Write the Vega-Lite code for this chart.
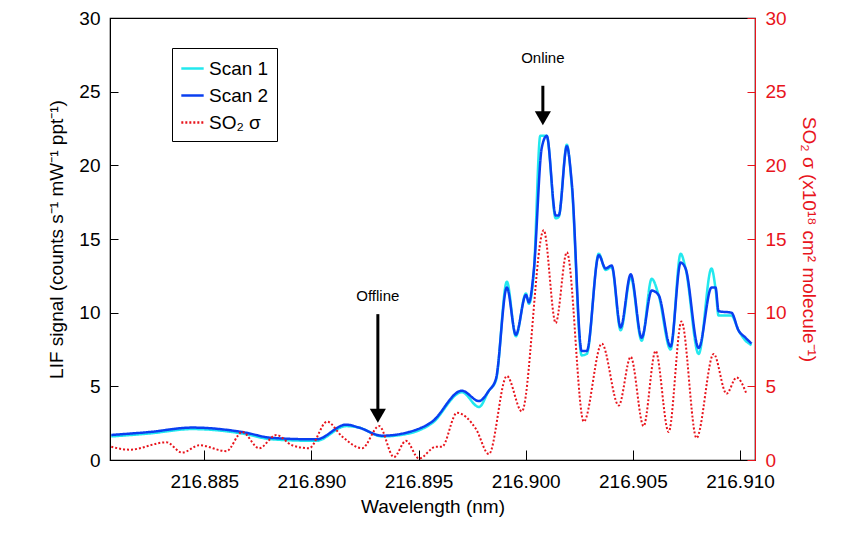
{
"$schema":"https://vega.github.io/schema/vega-lite/v6.json",
"width":645,"height":442,"autosize":"none",
"padding":{"left":110,"top":18,"right":106,"bottom":84},
"background":"white",
"config":{"font":"Liberation Sans","view":{"stroke":"black","strokeWidth":1.2},"axis":{"grid":false,"labelFontSize":19,"titleFontSize":19,"titleFontWeight":"normal","domainColor":"black","tickColor":"black","labelColor":"black","titleColor":"black"}},
"datasets":{
"blue":[
{"w":216.88066,"v":1.7},{"w":216.88244,"v":1.9},{"w":216.88444,"v":2.2},{"w":216.88677,"v":1.9},{"w":216.88817,"v":1.5},{"w":216.89022,"v":1.4},{"w":216.89162,"v":2.4},{"w":216.89222,"v":2.2},{"w":216.8933,"v":1.65},{"w":216.89455,"v":1.9},{"w":216.89563,"v":2.6},{"w":216.89702,"v":4.7},{"w":216.89782,"v":4.0},{"w":216.89828,"v":4.7},{"w":216.89861,"v":5.5},{"w":216.89912,"v":11.7},{"w":216.89954,"v":8.5},{"w":216.90001,"v":11.2},{"w":216.90015,"v":10.7},{"w":216.90038,"v":12.9},{"w":216.90075,"v":21.2},{"w":216.90098,"v":22.0},{"w":216.9014,"v":16.6},{"w":216.90154,"v":16.6},{"w":216.90192,"v":21.3},{"w":216.90215,"v":18.8},{"w":216.90261,"v":7.4},{"w":216.90285,"v":7.4},{"w":216.90341,"v":13.9},{"w":216.90373,"v":13.0},{"w":216.90401,"v":13.2},{"w":216.90443,"v":9.0},{"w":216.9049,"v":12.6},{"w":216.90541,"v":8.3},{"w":216.90588,"v":11.5},{"w":216.9062,"v":11.2},{"w":216.90676,"v":7.7},{"w":216.90723,"v":13.4},{"w":216.90746,"v":13.0},{"w":216.90807,"v":7.6},{"w":216.90867,"v":11.7},{"w":216.90886,"v":11.7},{"w":216.909,"v":10.1},{"w":216.9096,"v":10.0},{"w":216.90993,"v":8.8},{"w":216.91026,"v":8.3},{"w":216.91054,"v":7.9}],
"cyan":[
{"w":216.88066,"v":1.6},{"w":216.88244,"v":1.8},{"w":216.88444,"v":2.1},{"w":216.88677,"v":1.8},{"w":216.88817,"v":1.4},{"w":216.89022,"v":1.3},{"w":216.89162,"v":2.3},{"w":216.89222,"v":2.2},{"w":216.8933,"v":1.6},{"w":216.89455,"v":1.8},{"w":216.89563,"v":2.5},{"w":216.89702,"v":4.6},{"w":216.89782,"v":3.6},{"w":216.89828,"v":4.7},{"w":216.89861,"v":5.4},{"w":216.89912,"v":12.1},{"w":216.89954,"v":8.4},{"w":216.90001,"v":11.3},{"w":216.90015,"v":10.6},{"w":216.90038,"v":12.8},{"w":216.90068,"v":22.0},{"w":216.90098,"v":22.0},{"w":216.9014,"v":16.4},{"w":216.90154,"v":16.5},{"w":216.90192,"v":21.4},{"w":216.90215,"v":18.6},{"w":216.90261,"v":7.1},{"w":216.90285,"v":7.2},{"w":216.90341,"v":14.0},{"w":216.90373,"v":12.9},{"w":216.90401,"v":13.1},{"w":216.90443,"v":8.8},{"w":216.9049,"v":12.4},{"w":216.90541,"v":8.1},{"w":216.90588,"v":12.3},{"w":216.9062,"v":11.2},{"w":216.90676,"v":7.5},{"w":216.90723,"v":14.0},{"w":216.90746,"v":13.0},{"w":216.90807,"v":7.2},{"w":216.90867,"v":13.0},{"w":216.90886,"v":11.6},{"w":216.909,"v":9.8},{"w":216.9096,"v":9.8},{"w":216.90993,"v":8.8},{"w":216.91026,"v":8.1},{"w":216.91054,"v":7.8}],
"red":[
{"w":216.88066,"v":0.9},{"w":216.8815,"v":0.7},{"w":216.88323,"v":1.2},{"w":216.88397,"v":0.5},{"w":216.88477,"v":1.0},{"w":216.88603,"v":0.6},{"w":216.88677,"v":1.9},{"w":216.88756,"v":0.8},{"w":216.88836,"v":1.7},{"w":216.8891,"v":1.0},{"w":216.88989,"v":0.8},{"w":216.89073,"v":2.6},{"w":216.89143,"v":1.6},{"w":216.89236,"v":0.8},{"w":216.89316,"v":2.3},{"w":216.89385,"v":0.2},{"w":216.89441,"v":1.3},{"w":216.89502,"v":0.1},{"w":216.89581,"v":0.9},{"w":216.89609,"v":0.9},{"w":216.89679,"v":3.2},{"w":216.89768,"v":2.1},{"w":216.89828,"v":0.4},{"w":216.89912,"v":5.7},{"w":216.89982,"v":3.3},{"w":216.90084,"v":15.6},{"w":216.9014,"v":9.3},{"w":216.90192,"v":14.1},{"w":216.90271,"v":2.6},{"w":216.90355,"v":7.9},{"w":216.90434,"v":3.7},{"w":216.9049,"v":7.0},{"w":216.9055,"v":2.3},{"w":216.90606,"v":7.4},{"w":216.90667,"v":1.9},{"w":216.90727,"v":9.4},{"w":216.90797,"v":1.5},{"w":216.90877,"v":7.2},{"w":216.90937,"v":4.5},{"w":216.90984,"v":5.6},{"w":216.9103,"v":4.5}],
"ann":[{"w":216.9008,"y1":25.4,"y2":23.2,"ty":27.3,"t":"Online"},{"w":216.8931,"y1":9.9,"y2":3.0,"ty":11.1,"t":"Offline"}]
},
"layer":[
{"layer":[
{"data":{"name":"cyan"},"transform":[{"calculate":"'Scan 1'","as":"s"}],"mark":{"type":"line","strokeWidth":2.5,"interpolate":"monotone"},"encoding":{"x":{"field":"w","type":"quantitative"},"y":{"field":"v","type":"quantitative"},"color":{"field":"s","type":"nominal"},"strokeDash":{"field":"s","type":"nominal"}}},
{"data":{"name":"blue"},"transform":[{"calculate":"'Scan 2'","as":"s"}],"mark":{"type":"line","strokeWidth":2.5,"interpolate":"monotone"},"encoding":{"x":{"field":"w","type":"quantitative"},"y":{"field":"v","type":"quantitative"},"color":{"field":"s","type":"nominal"},"strokeDash":{"field":"s","type":"nominal"}}},
{"data":{"name":"red"},"transform":[{"calculate":"'SO₂ σ'","as":"s"}],"mark":{"type":"line","strokeWidth":2,"interpolate":"monotone"},"encoding":{"x":{"field":"w","type":"quantitative"},"y":{"field":"v","type":"quantitative"},"color":{"field":"s","type":"nominal"},"strokeDash":{"field":"s","type":"nominal"}}},
{"data":{"name":"ann"},"mark":{"type":"rule","strokeWidth":3,"color":"black"},"encoding":{"x":{"field":"w","type":"quantitative"},"y":{"field":"y1","type":"quantitative"},"y2":{"field":"y2"}}},
{"data":{"name":"ann"},"mark":{"type":"point","shape":"triangle-down","filled":true,"color":"black","size":260,"opacity":1},"encoding":{"x":{"field":"w","type":"quantitative"},"y":{"field":"y2","type":"quantitative"}}},
{"data":{"name":"ann"},"mark":{"type":"text","fontSize":15,"color":"black"},"encoding":{"x":{"field":"w","type":"quantitative"},"y":{"field":"ty","type":"quantitative"},"text":{"field":"t"}}}
],
"encoding":{
"x":{"field":"w","type":"quantitative","scale":{"domain":[216.8806,216.9107],"nice":false,"zero":false},"axis":{"title":"Wavelength (nm)","values":[216.885,216.89,216.895,216.9,216.905,216.91],"format":".3f","tickSize":-10,"labelPadding":22,"titlePadding":6}},
"y":{"field":"v","type":"quantitative","scale":{"domain":[0,30],"nice":false},"axis":{"title":"LIF signal (counts s⁻¹ mW⁻¹ ppt⁻¹)","values":[0,5,10,15,20,25,30],"tickSize":-8,"labelPadding":18,"titlePadding":12}},
"color":{"scale":{"domain":["Scan 1","Scan 2","SO₂ σ"],"range":["#22e8ee","#0a3ff0","#e8141c"]},"legend":{"title":null,"orient":"none","legendX":62,"legendY":30,"labelFontSize":19,"symbolType":"stroke","symbolSize":500,"symbolStrokeWidth":2.5,"strokeColor":"black","padding":8,"rowPadding":4,"labelColor":"black"}},
"strokeDash":{"scale":{"domain":["Scan 1","Scan 2","SO₂ σ"],"range":[[1,0],[1,0],[2,2]]},"legend":null}
}},
{"data":{"name":"red"},"mark":{"type":"line","opacity":0},"encoding":{"x":{"field":"w","type":"quantitative"},"y":{"field":"v","type":"quantitative","scale":{"domain":[0,30],"nice":false},"axis":{"orient":"right","title":"SO₂ σ (x10¹⁸ cm² molecule⁻¹)","values":[0,5,10,15,20,25,30],"tickSize":-8,"labelPadding":18,"titlePadding":12,"domainColor":"#e8141c","tickColor":"#e8141c","labelColor":"#e8141c","titleColor":"#e8141c"}}}}
],
"resolve":{"scale":{"y":"independent"}}
}
